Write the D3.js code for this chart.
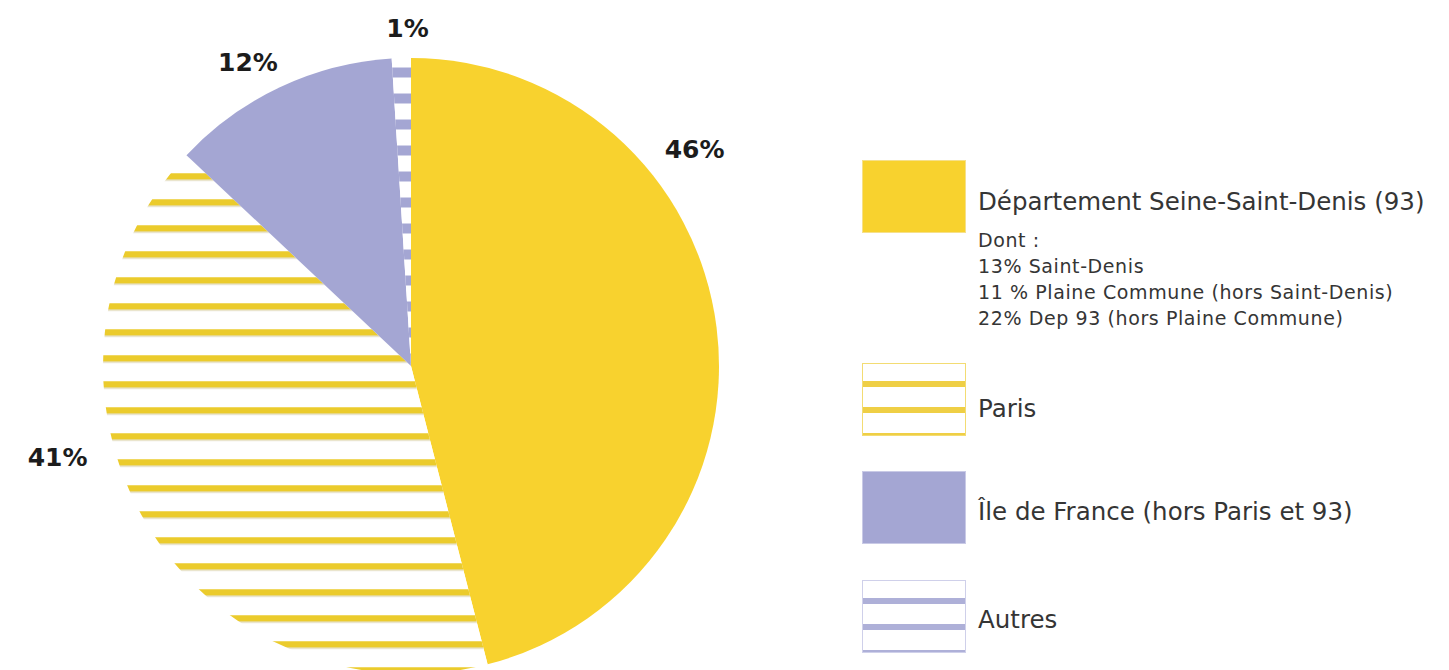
<!DOCTYPE html>
<html>
<head>
<meta charset="utf-8">
<script src="https://cdn.jsdelivr.net/npm/d3@7"></script>
<style>
  body { margin: 0; background: #fff; }
  svg { display: block; }
</style>
</head>
<body>
<svg id="chart" width="1449" height="670"></svg>
<script>
// data
const categories = [
    "Département Seine-Saint-Denis (93)",
    "Paris",
    "Île de France (hors Paris et 93)",
    "Autres"
];
const shares = [46, 41, 12, 1];
const shareLabels = ["46%", "41%", "12%", "1%"];
const detailLines = [
    "Dont :",
    "13% Saint-Denis",
    "11 % Plaine Commune (hors Saint-Denis)",
    "22% Dep 93 (hors Plaine Commune)"
];

// layout
const cx = 411, cy = 366, radius = 308;
const YELLOW = "#f8d22e", STRIPE_YELLOW = "#ebcb2c", LAVENDER = "#a4a6d3";
const TEXT = "#353535";

const svg = d3.select("#chart");
const defs = svg.append("defs");

// horizontal stripe pattern, anchored in page space so stripes line up across slices
function stripePattern(id, color, band, top, shadow) {
    const period = 26;
    const p = defs.append("pattern")
        .attr("id", id)
        .attr("patternUnits", "userSpaceOnUse")
        .attr("x", 0)
        .attr("y", top)
        .attr("width", 40)
        .attr("height", period);
    p.append("rect").attr("width", 40).attr("height", period).attr("fill", "#fff");
    p.append("rect").attr("width", 40).attr("height", band).attr("fill", color);
    if (shadow) {
        p.append("rect").attr("y", band).attr("width", 40).attr("height", 1)
            .attr("fill", shadow);
    }
}
stripePattern("paris", STRIPE_YELLOW, 6.5, 145.25, "#d8d2b6");
stripePattern("autres", LAVENDER, 10, 143.5, null);

const fills = [YELLOW, "url(#paris)", LAVENDER, "url(#autres)"];

const pie = d3.pie().sort(null).value(d => d);
const arcs = pie(shares);
const arc = d3.arc().innerRadius(0).outerRadius(radius);

const g = svg.append("g").attr("transform", `translate(${cx},${cy})`);

g.selectAll("path.slice")
    .data(arcs)
    .enter()
    .append("path")
    .attr("class", "slice")
    .attr("d", arc)
    .attr("fill", (d, i) => fills[i]);

// lavender rim on the small striped slice, kept inside the slice
defs.append("clipPath").attr("id", "autresClip")
    .attr("transform", `translate(${cx},${cy})`)
    .append("path").attr("d", arc(arcs[3]));
svg.append("path")
    .attr("transform", `translate(${cx},${cy})`)
    .attr("d", arc(arcs[3]))
    .attr("fill", "none")
    .attr("stroke", LAVENDER)
    .attr("stroke-width", 8)
    .attr("clip-path", "url(#autresClip)");

// percentage labels, placed around the pie (angle in degrees, radius in px)
const labelPlace = [
    { a: 52.6, r: 357 },
    { a: 255.5, r: 365 },
    { a: 331.8, r: 345 },
    { a: 359.4, r: 338 }
];
g.selectAll("text.pct")
    .data(arcs)
    .enter()
    .append("text")
    .attr("class", "pct")
    .attr("transform", (d, i) => {
        const [x, y] = d3.pointRadial(labelPlace[i].a * Math.PI / 180, labelPlace[i].r);
        return `translate(${x},${y})`;
    })
    .attr("dy", "0.36em")
    .attr("text-anchor", "middle")
    .attr("font-family", "DejaVu Sans, sans-serif")
    .attr("font-weight", "bold")
    .attr("font-size", 25)
    .attr("fill", "#1c1c1c")
    .text((d, i) => shareLabels[i]);

// legend
const swatchX = 862, swatchW = 103, swatchH = 72, textX = 978;
const swatchTop = [160, 363, 471, 580];
const textBase = [210, 417, 520, 628];

stripePattern("parisKey", "#efcf45", 6, swatchTop[1] + 18, null);
stripePattern("autresKey", "#aeb0d8", 6, swatchTop[3] + 18, null);
const keyFills = [YELLOW, "url(#parisKey)", LAVENDER, "url(#autresKey)"];
const keyStroke = ["#f6e08a", "#f3dc73", "#c9cae6", "#cfd0ea"];

const legend = svg.append("g").attr("class", "legend");
legend.selectAll("rect")
    .data(categories)
    .enter()
    .append("rect")
    .attr("x", swatchX + 0.5)
    .attr("y", (d, i) => swatchTop[i] + 0.5)
    .attr("width", swatchW)
    .attr("height", swatchH)
    .attr("fill", (d, i) => keyFills[i])
    .attr("stroke", (d, i) => keyStroke[i])
    .attr("stroke-width", 1);

legend.selectAll("text.key")
    .data(categories)
    .enter()
    .append("text")
    .attr("class", "key")
    .attr("x", textX)
    .attr("y", (d, i) => textBase[i])
    .attr("font-family", "DejaVu Sans, sans-serif")
    .attr("font-size", 24.5)
    .attr("fill", TEXT)
    .text(d => d);

legend.selectAll("text.detail")
    .data(detailLines)
    .enter()
    .append("text")
    .attr("class", "detail")
    .attr("x", textX)
    .attr("y", (d, i) => 247 + i * 26)
    .attr("font-family", "DejaVu Sans, sans-serif")
    .attr("font-size", 19)
    .attr("letter-spacing", 0.6)
    .attr("fill", TEXT)
    .text(d => d);
</script>
</body>
</html>
